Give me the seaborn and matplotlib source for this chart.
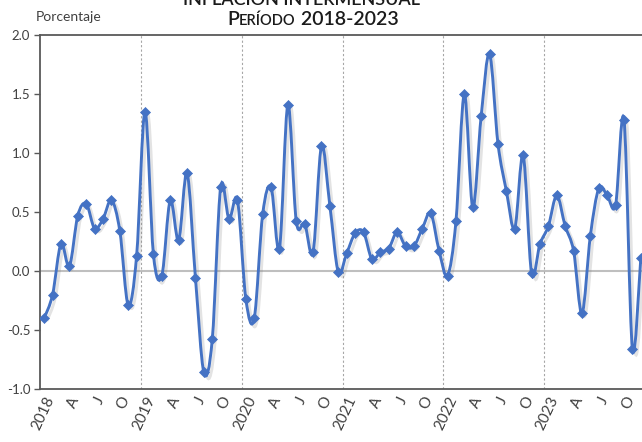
import numpy as np
import pandas as pd
import seaborn as sns
import matplotlib.pyplot as plt
from matplotlib.path import Path
from matplotlib.patches import PathPatch
import matplotlib.patheffects as pe

years = ['2018', '2019', '2020', '2021', '2022', '2023']
quarter_labels = ['', 'A', 'J', 'O']

# monthly inflation (%), jan..dec for each year
v2018 = [-0.40, -0.20, 0.23, 0.04, 0.47, 0.57, 0.36, 0.44, 0.60, 0.34, -0.29, 0.13]
v2019 = [1.35, 0.14, -0.04, 0.60, 0.26, 0.83, -0.06, -0.86, -0.58, 0.71, 0.44, 0.60]
v2020 = [-0.24, -0.40, 0.48, 0.71, 0.19, 1.41, 0.42, 0.40, 0.16, 1.06, 0.55, -0.01]
v2021 = [0.15, 0.32, 0.33, 0.10, 0.16, 0.19, 0.33, 0.21, 0.21, 0.36, 0.49, 0.17]
v2022 = [-0.04, 0.42, 1.50, 0.54, 1.31, 1.84, 1.08, 0.68, 0.36, 0.98, -0.02, 0.23]
v2023 = [0.38, 0.64, 0.38, 0.17, -0.36, 0.30, 0.70, 0.64, 0.56, 1.28, -0.66, 0.11]

values = v2018 + v2019 + v2020 + v2021 + v2022 + v2023
df = pd.DataFrame({'mes': np.arange(len(values)), 'valor': values})

blue = '#4472C4'
sns.set_theme(style='white')
plt.rcParams['font.family'] = ['Lato', 'DejaVu Sans']

fig = plt.figure(figsize=(6.42, 4.42), dpi=100)
ax = fig.add_axes([0.0623, 0.1199, 0.9424, 0.8009])

# smoothed line (catmull-rom style bezier, like excel)
x = df.mes.values.astype(float)
y = df.valor.values
pts = np.column_stack([x, y])
ext = np.vstack([pts[0], pts, pts[-1]])
verts = [tuple(pts[0])]
codes = [Path.MOVETO]
for i in range(len(pts) - 1):
    p0, p1, p2, p3 = ext[i], ext[i + 1], ext[i + 2], ext[i + 3]
    c1 = p1 + (p2 - p0) / 6
    c2 = p2 - (p3 - p1) / 6
    verts += [tuple(c1), tuple(c2), tuple(p2)]
    codes += [Path.CURVE4] * 3
patch = PathPatch(Path(verts, codes), fill=False, edgecolor=blue, lw=2.1, zorder=3,
                  path_effects=[pe.SimpleLineShadow(offset=(2, -2), alpha=0.22, shadow_color='gray'),
                                pe.Normal()])
ax.add_patch(patch)

sns.scatterplot(data=df, x='mes', y='valor', marker='D', s=26, color=blue,
                edgecolor=blue, linewidth=0.5, ax=ax, zorder=4)

ax.axhline(0, color='#BFBFBF', lw=1.5, zorder=1)
for k in range(1, len(years)):
    ax.axvline(12 * k - 0.5, color='#A6A6A6', lw=0.8, ls=(0, (2, 2)), zorder=1)

ax.set_xlim(-0.5, len(values) - 0.5)
ax.set_ylim(-1.0, 2.0)
ax.set_yticks(np.arange(-1.0, 2.01, 0.5))
ax.set_yticklabels([f'{t:.1f}' for t in np.arange(-1.0, 2.01, 0.5)], fontsize=9.5, color='#404040')

xticks = []
xlabels = []
for i, yr in enumerate(years):
    for q, lab in enumerate(quarter_labels):
        xticks.append(12 * i + 3 * q)
        xlabels.append(yr if q == 0 else lab)
ax.set_xticks(xticks)
ax.set_xticklabels(xlabels, rotation=65, ha='right', va='top', rotation_mode='anchor',
                   fontsize=11, color='#404040')
ax.tick_params(axis='x', length=0, pad=4)
ax.tick_params(axis='y', length=4, width=1, color='#595959', left=True, pad=3)
ax.set_xlabel('')
ax.set_ylabel('')

for side in ['left', 'bottom', 'top']:
    ax.spines[side].set_color('#595959')
    ax.spines[side].set_linewidth(1.3)
ax.spines['right'].set_visible(False)

fig.text(0.056, 0.962, 'Porcentaje', fontsize=10, color='#404040', ha='left', va='center')
# first title line, mostly above the top edge as in the source
fig.text(0.47, 0.9887, 'INFLACIÓN INTERMENSUAL', fontsize=13, fontweight='semibold',
         color='#1a1a1a', ha='center', va='baseline')

# small caps subtitle, pieces placed one after another on the same baseline
pieces = [('P', 14), ('ERÍODO', 10.5), (' 2018-2023', 14)]
renderer = fig.canvas.get_renderer()
xpos = 0.354
for txt, size in pieces:
    t = fig.text(xpos, 0.943, txt, fontsize=size, fontweight='semibold', color='#1a1a1a',
                 ha='left', va='baseline')
    bb = t.get_window_extent(renderer=renderer)
    xpos = fig.transFigure.inverted().transform((bb.x1, bb.y0))[0]

fig.savefig('out.png', dpi=100)
